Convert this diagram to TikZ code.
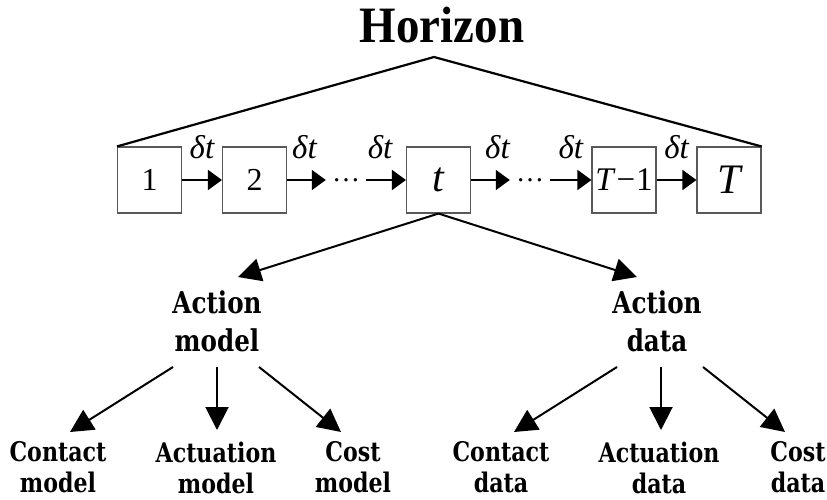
\documentclass[tikz,border=0pt]{standalone}
\usepackage{fontspec}
\setmainfont{Liberation Serif}
\newfontfamily\lblfont[FakeStretch=0.82]{DejaVu Serif}
\newfontfamily\horfont[FakeStretch=0.92]{Liberation Serif}
\usetikzlibrary{arrows.meta,calc}
\begin{document}
\begin{tikzpicture}[x=1pt,y=-1pt,
  stepbox/.style={draw=black!65, line width=1.1pt, minimum width=64pt, minimum height=66pt, inner sep=0pt},
  dotsnode/.style={minimum width=40pt, minimum height=10pt, inner sep=0pt, font=\fontsize{28}{28}\selectfont},
  dtlab/.style={anchor=base, yshift=22pt, inner sep=0pt, font=\fontsize{33}{33}\selectfont\itshape},
  tarrow/.style={-{Triangle[length=14pt,width=20pt]}, line width=1.6pt},
  barrow/.style={-{Triangle[length=23pt,width=23pt]}, line width=2pt},
  midlab/.style={align=center, inner sep=0pt, font=\lblfont\bfseries\fontsize{30}{38}\selectfont},
  botlab/.style={align=center, inner sep=0pt, font=\lblfont\bfseries\fontsize{27}{31}\selectfont},
  hzline/.style={line width=2.2pt, line join=round}
]
\useasboundingbox (0,0) rectangle (827,499);

% title
\node[anchor=base, inner sep=0pt, font=\horfont\bfseries\fontsize{51}{51}\selectfont] (hz) at (442,42) {Horizon};

% time step boxes
\node[stepbox] (b1) at (149.5,180) {\fontsize{32}{32}\selectfont 1};
\node[stepbox] (b2) at (254.5,180) {\fontsize{32}{32}\selectfont 2};
\node[dotsnode] (d1) at (346,180) {\raisebox{-3pt}{…}};
\node[stepbox] (bt) at (438.5,180) {\fontsize{42}{42}\selectfont\itshape t};
\node[dotsnode] (d2) at (530,180) {\raisebox{-3pt}{…}};
\node[stepbox] (bT1) at (624,180) {\fontsize{33}{33}\selectfont\textit{T}\kern1pt−\kern1pt1};
\node[stepbox] (bT) at (729,180) {\fontsize{42}{42}\selectfont\itshape T};

% horizon bracket
\coordinate (apex) at (434,57);
\draw[hzline] (b1.north west) -- (apex) -- (bT.north east);

% step arrows
\draw[tarrow] (b1) -- (b2) node[dtlab, midway] {δt};
\draw[tarrow] (b2) -- (d1) node[dtlab, midway, xshift=-2pt] {δt};
\draw[tarrow] (d1) -- (bt) node[dtlab, midway, xshift=-6pt] {δt};
\draw[tarrow] (bt) -- (d2) node[dtlab, midway, xshift=7pt] {δt};
\draw[tarrow] (d2) -- (bT1) node[dtlab, midway] {δt};
\draw[tarrow] (bT1) -- (bT) node[dtlab, midway] {δt};

% action nodes
\node[midlab] (am) at (217,321) {Action\\model};
\node[midlab] (ad) at (657,321) {Action\\data};

\draw[barrow] (bt.south) -- ($(am)+(21,-44)$);
\draw[barrow] (bt.south) -- ($(ad)+(-20,-44)$);

% leaves
\node[botlab] (cm) at (58,467.5) {Contact\\model};
\node[botlab] (acm) at (216,467.5) {Actuation\\model};
\node[botlab] (csm) at (353,467.5) {Cost\\model};
\node[botlab] (cd) at (501,467.5) {Contact\\data};
\node[botlab] (acd) at (659,467.5) {Actuation\\data};
\node[botlab] (csd) at (798,467.5) {Cost\\data};

\draw[barrow] ($(am)+(-44,46)$) -- ($(cm)+(12,-35.5)$);
\draw[barrow] ($(am)+(0,46)$) -- ($(acm)+(1,-37.5)$);
\draw[barrow] ($(am)+(42,46)$) -- ($(csm)+(-12,-35.5)$);
\draw[barrow] ($(ad)+(-40,46)$) -- ($(cd)+(13,-35.5)$);
\draw[barrow] ($(ad)+(4,46)$) -- ($(acd)+(2,-37.5)$);
\draw[barrow] ($(ad)+(46,46)$) -- ($(csd)+(-13,-35.5)$);
\end{tikzpicture}
\end{document}
